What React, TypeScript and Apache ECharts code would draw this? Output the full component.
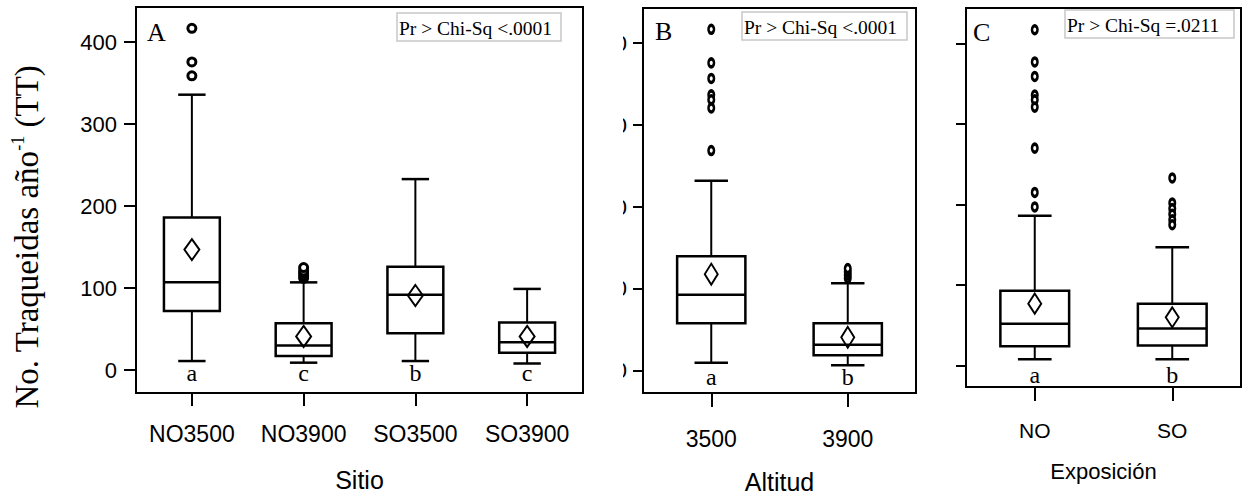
import React, { useEffect, useRef } from "react";
import * as echarts from "echarts";

// ---------- data ----------
const Y_TICKS = [0, 100, 200, 300, 400];

const SITIO_CATS = ["NO3500", "NO3900", "SO3500", "SO3900"];
const SITIO_MIN = [11, 9, 11, 8];
const SITIO_Q1 = [72, 17, 45, 21];
const SITIO_MEDIAN = [107, 30, 92, 34];
const SITIO_Q3 = [186, 57, 126, 58];
const SITIO_MAX = [336, 107, 233, 99];
const SITIO_MEAN = [147, 41, 91, 41];
const SITIO_OUTLIERS = [[417, 376, 359], [112, 115, 118, 121, 125], [], []];
const SITIO_LETTERS = ["a", "c", "b", "c"];

const ALT_CATS = ["3500", "3900"];
const ALT_MIN = [10, 7];
const ALT_Q1 = [58, 19];
const ALT_MEDIAN = [93, 32];
const ALT_Q3 = [140, 58];
const ALT_MAX = [232, 107];
const ALT_MEAN = [118, 41];
const ALT_OUTLIERS = [[417, 376, 357, 337, 331, 321, 269], [113, 117, 121, 125]];
const ALT_LETTERS = ["a", "b"];

const EXPO_CATS = ["NO", "SO"];
const EXPO_MIN = [8, 8];
const EXPO_Q1 = [24, 25];
const EXPO_MEDIAN = [52, 46];
const EXPO_Q3 = [93, 77];
const EXPO_MAX = [186, 147];
const EXPO_MEAN = [77, 60];
const EXPO_OUTLIERS = [[417, 377, 359, 336, 330, 321, 270, 215, 197], [233, 202, 195, 188, 181, 175]];
const EXPO_LETTERS = ["a", "b"];

const PANEL_TAGS = ["A", "B", "C"];
const PVALUE_TEXTS = ["Pr > Chi-Sq <.0001", "Pr > Chi-Sq <.0001", "Pr > Chi-Sq =.0211"];
const X_NAMES = ["Sitio", "Altitud", "Exposición"];
const Y_TITLE = "No. Traqueidas año";

// ---------- styling / layout ----------
const SANS = "'Liberation Sans', Arial, sans-serif";
const SERIF = "'Liberation Serif', 'Times New Roman', serif";
const BLACK = "#000";

const PANELS = [
  {
    cats: SITIO_CATS, min: SITIO_MIN, q1: SITIO_Q1, med: SITIO_MEDIAN, q3: SITIO_Q3, max: SITIO_MAX,
    mean: SITIO_MEAN, out: SITIO_OUTLIERS, letters: SITIO_LETTERS,
    grid: { left: 136, top: 7, width: 447, height: 386 }, yMin: -28, yMax: 443,
    showYLabels: true, yLabelMargin: 19, yTickLen: 12,
    xFontSize: 23, xMargin: 29, nameGap: 74, nameFontSize: 25, xTickLen: 13,
    letterY: -4, outSize: [8, 8], meanSize: [15, 21],
    tag: { x: 147, y: 33 }, pbox: { x: 397, y: 13, w: 164, h: 28 },
  },
  {
    cats: ALT_CATS, min: ALT_MIN, q1: ALT_Q1, med: ALT_MEDIAN, q3: ALT_Q3, max: ALT_MAX,
    mean: ALT_MEAN, out: ALT_OUTLIERS, letters: ALT_LETTERS,
    grid: { left: 643, top: 8, width: 273, height: 385 }, yMin: -27, yMax: 443,
    showYLabels: true, yLabelMargin: 16, yTickLen: 10,
    xFontSize: 23, xMargin: 34, nameGap: 76, nameFontSize: 25, xTickLen: 14,
    letterY: -7, outSize: [5.5, 8], meanSize: [13, 21],
    tag: { x: 655, y: 32 }, pbox: { x: 742, y: 12, w: 165, h: 28 },
  },
  {
    cats: EXPO_CATS, min: EXPO_MIN, q1: EXPO_Q1, med: EXPO_MEDIAN, q3: EXPO_Q3, max: EXPO_MAX,
    mean: EXPO_MEAN, out: EXPO_OUTLIERS, letters: EXPO_LETTERS,
    grid: { left: 966, top: 8, width: 275, height: 379 }, yMin: -26.5, yMax: 444,
    showYLabels: false, yLabelMargin: 16, yTickLen: 10,
    xFontSize: 21, xMargin: 33, nameGap: 73, nameFontSize: 22, xTickLen: 14,
    letterY: -12, outSize: [5.5, 8], meanSize: [13, 20],
    tag: { x: 973, y: 33 }, pbox: { x: 1065, y: 10, w: 169, h: 28 },
  },
];

const BOX_FRAC = 0.5;
const CAP_FRAC = 0.245;
const ELLIPSE = "path://M0,1 A1,1 0 1,1 2,1 A1,1 0 1,1 0,1 Z";

function buildOption() {
  const grid: any[] = [];
  const xAxis: any[] = [];
  const yAxis: any[] = [];
  const series: any[] = [];
  const graphic: any[] = [];

  PANELS.forEach((p, i) => {
    grid.push({
      ...p.grid,
      show: true,
      borderColor: BLACK,
      borderWidth: 2,
      backgroundColor: "transparent",
      containLabel: false,
      outerBoundsMode: "none",
    });
    xAxis.push({
      type: "category",
      gridIndex: i,
      data: p.cats,
      boundaryGap: true,
      axisLine: { show: true, onZero: false, lineStyle: { color: BLACK, width: 2 } },
      axisTick: { show: true, alignWithLabel: true, length: p.xTickLen, lineStyle: { color: BLACK, width: 2 } },
      axisLabel: { color: BLACK, fontFamily: SANS, fontSize: p.xFontSize, margin: p.xMargin },
      splitLine: { show: false },
      name: X_NAMES[i],
      nameLocation: "middle",
      nameGap: p.nameGap,
      nameTextStyle: { color: BLACK, fontFamily: SANS, fontSize: p.nameFontSize },
    });
    yAxis.push({
      type: "value",
      gridIndex: i,
      min: p.yMin,
      max: p.yMax,
      axisLine: { show: true, onZero: false, lineStyle: { color: BLACK, width: 2 } },
      axisTick: { show: true, customValues: Y_TICKS, length: p.yTickLen, lineStyle: { color: BLACK, width: 2 } },
      axisLabel: {
        show: p.showYLabels,
        customValues: Y_TICKS,
        color: BLACK,
        fontFamily: SANS,
        fontSize: 22,
        margin: p.yLabelMargin,
      },
      splitLine: { show: false },
    });

    const boxData = p.cats.map((_, j) => [j, p.min[j], p.q1[j], p.med[j], p.q3[j], p.max[j]]);
    const letters = p.letters;
    const letterY = p.letterY;
    series.push({
      type: "custom",
      xAxisIndex: i,
      yAxisIndex: i,
      data: boxData,
      encode: { x: 0, y: [1, 2, 3, 4, 5] },
      silent: true,
      z: 2,
      renderItem: (params: any, api: any) => {
        const j = api.value(0);
        const band = api.size([1, 0])[0];
        const cx = api.coord([j, 0])[0];
        const yv = (k: number) => api.coord([j, api.value(k)])[1];
        const yMin = yv(1), yQ1 = yv(2), yMed = yv(3), yQ3 = yv(4), yMax = yv(5);
        const hb = (band * BOX_FRAC) / 2;
        const hc = (band * CAP_FRAC) / 2;
        const ls = { stroke: BLACK, lineWidth: 2, fill: "none" };
        const yLetter = api.coord([j, letterY])[1];
        return {
          type: "group",
          children: [
            { type: "line", shape: { x1: cx, y1: yQ3, x2: cx, y2: yMax }, style: ls },
            { type: "line", shape: { x1: cx, y1: yQ1, x2: cx, y2: yMin }, style: ls },
            { type: "line", shape: { x1: cx - hc, y1: yMax, x2: cx + hc, y2: yMax }, style: { ...ls, lineWidth: 2.5 } },
            { type: "line", shape: { x1: cx - hc, y1: yMin, x2: cx + hc, y2: yMin }, style: { ...ls, lineWidth: 2.5 } },
            { type: "rect", shape: { x: cx - hb, y: yQ3, width: hb * 2, height: yQ1 - yQ3 }, style: { ...ls, fill: "#fff", lineWidth: 2.5 } },
            { type: "line", shape: { x1: cx - hb, y1: yMed, x2: cx + hb, y2: yMed }, style: { ...ls, lineWidth: 2.5 } },
            {
              type: "text",
              x: cx,
              y: yLetter,
              style: {
                text: letters[j],
                fill: BLACK,
                fontFamily: SERIF,
                fontSize: 24,
                align: "center",
                verticalAlign: "middle",
              },
            },
          ],
        };
      },
    });

    const outData: number[][] = [];
    p.out.forEach((vals, j) => vals.forEach((v) => outData.push([j, v])));
    series.push({
      type: "scatter",
      xAxisIndex: i,
      yAxisIndex: i,
      data: outData,
      symbol: ELLIPSE,
      symbolSize: p.outSize,
      silent: true,
      z: 3,
      itemStyle: { color: "#fff", borderColor: BLACK, borderWidth: 3, opacity: 1 },
    });
    series.push({
      type: "scatter",
      xAxisIndex: i,
      yAxisIndex: i,
      data: p.mean.map((m, j) => [j, m]),
      symbol: "diamond",
      symbolSize: p.meanSize,
      silent: true,
      z: 4,
      itemStyle: { color: "rgba(0,0,0,0)", borderColor: BLACK, borderWidth: 2, opacity: 1 },
    });

    graphic.push({
      type: "text",
      left: p.tag.x,
      top: p.tag.y - 14,
      style: { text: PANEL_TAGS[i], fill: BLACK, fontFamily: SERIF, fontSize: 26 },
      z: 10,
    });
    graphic.push({
      type: "rect",
      shape: { x: p.pbox.x, y: p.pbox.y, width: p.pbox.w, height: p.pbox.h },
      style: { fill: "#fff", stroke: "#c8c8c8", lineWidth: 1.5 },
      z: 10,
    });
    graphic.push({
      type: "text",
      x: p.pbox.x + 2,
      y: p.pbox.y + p.pbox.h / 2 + 1,
      style: {
        text: PVALUE_TEXTS[i],
        fill: BLACK,
        fontFamily: SERIF,
        fontSize: 19.5,
        align: "left",
        verticalAlign: "middle",
      },
      z: 11,
    });
  });

  // panel B tick labels are cut off in the original figure: mask all but their last sliver
  graphic.push({
    type: "rect",
    shape: { x: 588, y: 25, width: 35, height: 365 },
    style: { fill: "#fff" },
    z: 20,
  });

  // y-axis title with superscript
  graphic.push({
    type: "text",
    x: 27,
    y: 237,
    rotation: Math.PI / 2,
    style: {
      text: "{n|" + Y_TITLE + "}{s|-1}{n| (TT)}",
      fill: BLACK,
      align: "center",
      verticalAlign: "middle",
      rich: {
        n: { fontFamily: SERIF, fontSize: 33, fill: BLACK, lineHeight: 36 },
        s: { fontFamily: SERIF, fontSize: 18, fill: BLACK, verticalAlign: "top", lineHeight: 36, padding: [0, 0, 15, 0] },
      },
    },
    z: 10,
  });

  return {
    animation: false,
    backgroundColor: "#fff",
    grid,
    xAxis,
    yAxis,
    series,
    graphic,
  };
}

export default function App() {
  const ref = useRef<HTMLDivElement>(null);
  useEffect(() => {
    if (!ref.current) return;
    const chart = echarts.init(ref.current, undefined, { renderer: "svg" });
    chart.setOption(buildOption() as any);
    return () => chart.dispose();
  }, []);
  return (
    <div
      ref={ref}
      style={{ position: "absolute", left: 0, top: 0, width: 1243, height: 495, background: "#fff" }}
    />
  );
}
